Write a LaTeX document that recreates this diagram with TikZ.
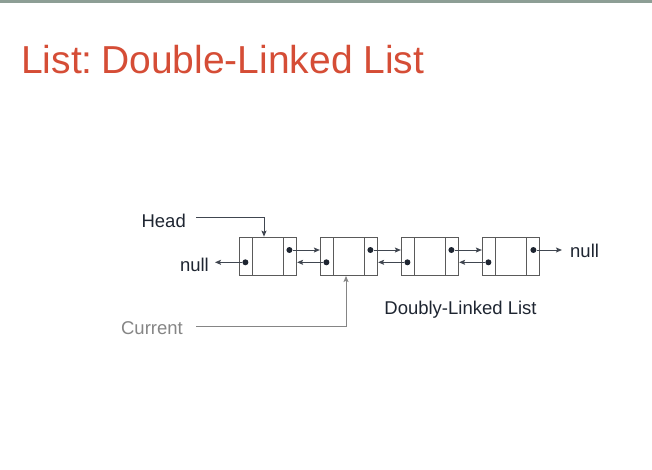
\documentclass[tikz,border=0pt]{standalone}
\usepackage{fontspec}
\setmainfont{Liberation Sans}
\usetikzlibrary{arrows.meta}
\definecolor{bargray}{HTML}{8D9E95}
\definecolor{titlered}{HTML}{D54D36}
\definecolor{textdark}{HTML}{1E2531}
\definecolor{boxgray}{HTML}{5A5A5A}
\definecolor{curgray}{HTML}{858585}
\tikzstyle{cell}=[draw=boxgray, line width=1.3pt, minimum height=38pt, inner sep=0]
\tikzstyle{ptrcell}=[cell, minimum width=12.75pt]
\tikzstyle{datacell}=[cell, minimum width=31.5pt]
\tikzstyle{dot}=[circle, fill=textdark, inner sep=0, minimum size=6pt]
\tikzstyle{lbl}=[inner sep=0, text=textdark, font=\fontsize{18.5}{22}\selectfont]
\tikzstyle{link}=[draw=textdark!85!white, line width=1pt, -{Stealth[length=6pt, width=5pt, inset=1.2pt]}]

\begin{document}
\begin{tikzpicture}[x=1pt, y=-1pt]
\useasboundingbox (0,0) rectangle (652,469);
\fill [bargray] (0,0) rectangle (652,3);

\node [anchor=base west, inner sep=0, text=titlered, font=\fontsize{39}{46}\selectfont] (title) at (21,73.3) {List:\hspace{0.22em}Double-Linked List};

% the four list elements
\node [ptrcell ] (l1) at (245.9,256.3) {};
\node [datacell] (m1) at (268.0,256.3) {};
\node [ptrcell ] (r1) at (290.1,256.3) {};
\node [ptrcell ] (l2) at (326.9,256.3) {};
\node [datacell] (m2) at (349.0,256.3) {};
\node [ptrcell ] (r2) at (371.1,256.3) {};
\node [ptrcell ] (l3) at (407.9,256.3) {};
\node [datacell] (m3) at (430.0,256.3) {};
\node [ptrcell ] (r3) at (452.1,256.3) {};
\node [ptrcell ] (l4) at (488.9,256.3) {};
\node [datacell] (m4) at (511.0,256.3) {};
\node [ptrcell ] (r4) at (533.1,256.3) {};

\node [dot] (nx1) at (289.4,250) {};
\node [dot] (nx2) at (370.4,250) {};
\node [dot] (nx3) at (451.4,250) {};
\node [dot] (nx4) at (533.4,250) {};
\node [dot] (pv1) at (245.4,262.3) {};
\node [dot] (pv2) at (326.4,262.3) {};
\node [dot] (pv3) at (407.4,262.3) {};
\node [dot] (pv4) at (488.4,262.3) {};

\node [lbl, anchor=base east] (hd)  at (186,227.3) {Head};
\node [lbl, anchor=base east] (nl)  at (209,271.7) {null};
\node [lbl, anchor=base west] (nr)  at (570,257.7) {null};
\node [lbl, anchor=base east, text=curgray] (cur) at (183,334) {Current};
\node [lbl] (cap) at (460.5,309.5) {Doubly-Linked List};

\draw [link] (nx1) -- (l2.west |- nx1);
\draw [link] (nx2) -- (l3.west |- nx2);
\draw [link] (nx3) -- (l4.west |- nx3);
\draw [link, shorten >=8pt] (nx4) -- (nr.west |- nx4);
\draw [link, shorten >=6pt] (pv1) -- (nl.east |- pv1);
\draw [link] (pv2) -- (r1.east |- pv2);
\draw [link] (pv3) -- (r2.east |- pv3);
\draw [link] (pv4) -- (r3.east |- pv4);

\draw [link] ([xshift=10pt, yshift=3pt]hd.east) -| ([xshift=-4pt]m1.north);
\draw [link, draw=curgray] ([xshift=13pt, yshift=1.5pt]cur.east) -| ([xshift=-3pt]m2.south);

\end{tikzpicture}
\end{document}
